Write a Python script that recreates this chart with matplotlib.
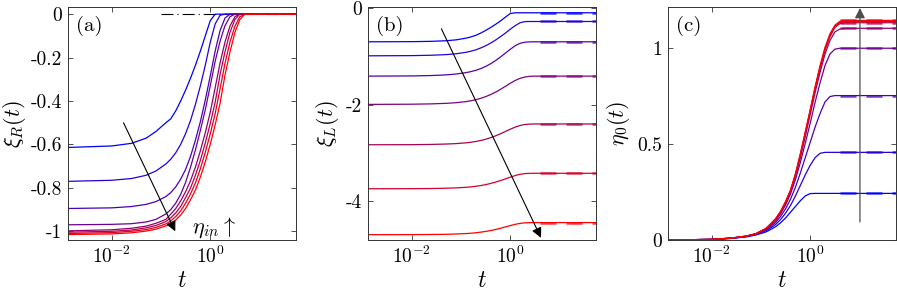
import matplotlib.pyplot as plt
from matplotlib.ticker import LogLocator, FixedLocator, NullFormatter, FixedFormatter

plt.rcParams['font.family'] = 'cmr10'
plt.rcParams['mathtext.fontset'] = 'cm'
plt.rcParams['axes.unicode_minus'] = False

# time samples
t = [1.26e-3, 0.01, 0.0251, 0.0501, 0.0794, 0.126, 0.158, 0.2, 0.251, 0.316,
     0.398, 0.501, 0.631, 0.794, 1.0, 1.259, 1.585, 1.995, 2.512, 3.162,
     3.981, 5.012, 6.31, 10.0, 55.0]

# panel (a): xi_R(t)
xiR = [
    [-0.614, -0.607, -0.595, -0.571, -0.54, -0.50, -0.482, -0.445, -0.40, -0.35, -0.295, -0.235, -0.17,
     -0.10, -0.03, 0, 0, 0, 0, 0, 0, 0, 0, 0, 0],
    [-0.77, -0.765, -0.757, -0.742, -0.722, -0.69, -0.668, -0.638, -0.60, -0.55, -0.49, -0.415, -0.33,
     -0.235, -0.13, -0.045, -0.005, 0, 0, 0, 0, 0, 0, 0, 0],
    [-0.895, -0.892, -0.886, -0.876, -0.863, -0.84, -0.822, -0.795, -0.76, -0.715, -0.655, -0.58, -0.495,
     -0.395, -0.285, -0.17, -0.075, -0.018, 0, 0, 0, 0, 0, 0, 0],
    [-0.97, -0.968, -0.965, -0.957, -0.945, -0.92, -0.90, -0.87, -0.83, -0.775, -0.705, -0.625, -0.535,
     -0.44, -0.33, -0.217, -0.124, -0.053, -0.012, 0, 0, 0, 0, 0, 0],
    [-0.998, -0.993, -0.986, -0.976, -0.963, -0.945, -0.921, -0.895, -0.86, -0.818, -0.767, -0.704, -0.629,
     -0.546, -0.452, -0.339, -0.224, -0.128, -0.055, -0.012, 0, 0, 0, 0, 0],
    [-1.004, -1.0, -0.994, -0.984, -0.973, -0.955, -0.938, -0.915, -0.886, -0.845, -0.801, -0.742, -0.673,
     -0.593, -0.504, -0.406, -0.277, -0.173, -0.084, -0.025, 0, 0, 0, 0, 0],
    [-1.01, -1.006, -1.0, -0.992, -0.982, -0.966, -0.952, -0.932, -0.906, -0.871, -0.828, -0.777, -0.712,
     -0.636, -0.552, -0.458, -0.343, -0.226, -0.129, -0.056, -0.012, 0, 0, 0, 0],
    [-1.015, -1.012, -1.007, -0.999, -0.99, -0.975, -0.965, -0.948, -0.925, -0.895, -0.855, -0.81, -0.75,
     -0.68, -0.60, -0.51, -0.41, -0.28, -0.175, -0.085, -0.025, 0, 0, 0, 0],
]

# panel (b): xi_L(t)
xiL = [
    [-0.70, -0.697, -0.69, -0.678, -0.66, -0.625, -0.60, -0.565, -0.52, -0.465, -0.405, -0.34, -0.27,
     -0.19, -0.115, -0.10, -0.10, -0.10, -0.10, -0.10, -0.10, -0.10, -0.10, -0.10, -0.10],
    [-0.99, -0.986, -0.978, -0.965, -0.948, -0.918, -0.895, -0.866, -0.828, -0.782, -0.728, -0.665, -0.595,
     -0.52, -0.44, -0.365, -0.305, -0.282, -0.28, -0.28, -0.28, -0.28, -0.28, -0.28, -0.28],
    [-1.41, -1.406, -1.398, -1.384, -1.367, -1.338, -1.317, -1.29, -1.255, -1.21, -1.155, -1.09, -1.015,
     -0.935, -0.855, -0.78, -0.73, -0.708, -0.701, -0.70, -0.70, -0.70, -0.70, -0.70, -0.70],
    [-1.995, -1.991, -1.984, -1.973, -1.96, -1.937, -1.92, -1.898, -1.87, -1.835, -1.792, -1.742, -1.685,
     -1.622, -1.558, -1.50, -1.455, -1.427, -1.414, -1.41, -1.41, -1.41, -1.41, -1.41, -1.41],
    [-2.83, -2.828, -2.823, -2.815, -2.806, -2.79, -2.778, -2.762, -2.742, -2.716, -2.684, -2.646, -2.603,
     -2.556, -2.508, -2.465, -2.43, -2.41, -2.402, -2.40, -2.40, -2.40, -2.40, -2.40, -2.40],
    [-3.74, -3.738, -3.735, -3.729, -3.722, -3.71, -3.701, -3.689, -3.674, -3.655, -3.631, -3.603, -3.571,
     -3.536, -3.50, -3.467, -3.44, -3.426, -3.421, -3.42, -3.42, -3.42, -3.42, -3.42, -3.42],
    [-4.69, -4.689, -4.686, -4.682, -4.676, -4.667, -4.66, -4.65, -4.638, -4.623, -4.605, -4.583, -4.558,
     -4.53, -4.502, -4.476, -4.456, -4.445, -4.441, -4.44, -4.44, -4.44, -4.44, -4.44, -4.44],
]
xiL_end = [-0.10, -0.28, -0.70, -1.41, -2.40, -3.42, -4.44]

# panel (c): eta_0(t)
eta0 = [
    [0, 0.003, 0.008, 0.016, 0.026, 0.042, 0.055, 0.07, 0.09, 0.115, 0.145, 0.175, 0.205,
     0.23, 0.242, 0.243, 0.243, 0.243, 0.243, 0.243, 0.243, 0.243, 0.243, 0.243, 0.243],
    [0, 0.003, 0.009, 0.018, 0.029, 0.048, 0.063, 0.082, 0.107, 0.14, 0.18, 0.23, 0.285,
     0.34, 0.39, 0.43, 0.452, 0.457, 0.457, 0.457, 0.457, 0.457, 0.457, 0.457, 0.457],
    [0, 0.003, 0.009, 0.019, 0.031, 0.053, 0.07, 0.093, 0.123, 0.163, 0.213, 0.275, 0.35,
     0.43, 0.51, 0.59, 0.66, 0.72, 0.748, 0.753, 0.753, 0.753, 0.753, 0.753, 0.753],
    [0, 0.003, 0.01, 0.02, 0.032, 0.056, 0.077, 0.102, 0.137, 0.183, 0.24, 0.315, 0.405,
     0.505, 0.61, 0.72, 0.82, 0.91, 0.97, 0.995, 1.0, 1.0, 1.0, 1.0, 1.0],
    [0, 0.003, 0.01, 0.02, 0.033, 0.058, 0.08, 0.107, 0.143, 0.192, 0.252, 0.333, 0.43,
     0.54, 0.655, 0.77, 0.875, 0.97, 1.04, 1.085, 1.10, 1.104, 1.104, 1.104, 1.104],
    [0, 0.003, 0.01, 0.02, 0.033, 0.059, 0.083, 0.11, 0.147, 0.197, 0.257, 0.34, 0.443,
     0.555, 0.67, 0.79, 0.895, 0.99, 1.06, 1.108, 1.128, 1.133, 1.133, 1.133, 1.133],
    [0, 0.003, 0.01, 0.02, 0.033, 0.06, 0.084, 0.111, 0.149, 0.199, 0.259, 0.343, 0.447,
     0.56, 0.676, 0.796, 0.903, 0.998, 1.068, 1.115, 1.135, 1.14, 1.14, 1.14, 1.14],
    [0, 0.003, 0.01, 0.02, 0.033, 0.06, 0.085, 0.112, 0.15, 0.20, 0.26, 0.345, 0.45,
     0.565, 0.68, 0.80, 0.91, 1.005, 1.075, 1.12, 1.14, 1.145, 1.145, 1.145, 1.145],
]
eta0_end = [0.243, 0.457, 0.753, 1.0, 1.104, 1.133, 1.14, 1.145]

xmin, xmax = 1.3e-3, 55.0
t_dash = 4.0


def blue_red(n):
    return [(i / (n - 1), 0, 1 - i / (n - 1)) for i in range(n)]


def style(ax, yticks, ylabels, ylim):
    ax.set_xscale('log')
    ax.set_xlim(xmin, xmax)
    ax.set_ylim(*ylim)
    ax.xaxis.set_major_locator(LogLocator(base=100))
    ax.xaxis.set_minor_locator(LogLocator(base=10, subs=[1, 2, 3, 4, 5, 6, 7, 8, 9]))
    ax.xaxis.set_minor_formatter(NullFormatter())
    ax.yaxis.set_major_locator(FixedLocator(yticks))
    ax.yaxis.set_major_formatter(FixedFormatter(ylabels))
    ax.tick_params(which='both', direction='in', top=True, right=True,
                   labelsize=14, pad=4, color='0.2')
    ax.tick_params(which='major', length=3.5, width=0.6)
    ax.tick_params(which='minor', length=2, width=0.5)
    for s in ax.spines.values():
        s.set_color('0.2')
        s.set_linewidth(0.7)
    ax.set_xlabel('$t$', fontsize=17, labelpad=2)


fig = plt.figure(figsize=(8.97, 2.94), dpi=100)
axa = fig.add_axes([0.0758, 0.1837, 0.2542, 0.7925])
axb = fig.add_axes([0.4103, 0.1837, 0.2542, 0.7925])
axc = fig.add_axes([0.7447, 0.1837, 0.2542, 0.7925])

arrow = dict(arrowstyle='-|>', color='k', lw=0.8, mutation_scale=15, shrinkA=0, shrinkB=0)

# (a)
axa.plot([0.1, xmax], [0, 0], color='k', lw=0.8, dashes=[10.8, 3.6, 1, 3.6], zorder=1)
for y, c in zip(xiR, blue_red(len(xiR))):
    axa.plot(t, y, color=c, lw=0.9, zorder=2)
style(axa, [-1, -0.8, -0.6, -0.4, -0.2, 0], ['-1', '-0.8', '-0.6', '-0.4', '-0.2', '0'], (-1.04, 0.033))
axa.set_ylabel(r'$\xi_R(t)$', fontsize=16, labelpad=2)
axa.text(0.035, 0.96, '(a)', transform=axa.transAxes, fontsize=15, va='top')
axa.annotate('', xy=(0.195, -1.0), xytext=(0.0174, -0.5), arrowprops=arrow)
axa.text(0.42, -0.985, r'$\eta_{in}\uparrow$', fontsize=16, va='center')

# (b)
for y, e, c in zip(xiL, xiL_end, blue_red(len(xiL))):
    axb.plot(t, y, color=c, lw=0.9, zorder=2)
    axb.plot([t_dash, xmax], [e, e], color=c, lw=1.8, alpha=0.75, dashes=[6.4, 4], zorder=3)
style(axb, [-4, -2, 0], ['-4', '-2', '0'], (-4.8, 0.02))
axb.set_ylabel(r'$\xi_L(t)$', fontsize=16, labelpad=4)
axb.text(0.035, 0.96, '(b)', transform=axb.transAxes, fontsize=15, va='top')
axb.annotate('', xy=(4.2, -4.755), xytext=(0.04, -0.43), arrowprops=arrow)

# (c)
for y, e, c in zip(eta0, eta0_end, blue_red(len(eta0))):
    axc.plot(t, y, color=c, lw=0.9, zorder=2)
    axc.plot([t_dash, xmax], [e, e], color=c, lw=1.8, alpha=0.75, dashes=[6.4, 4], zorder=3)
style(axc, [0, 0.5, 1], ['0', '0.5', '1'], (0, 1.215))
axc.set_ylabel(r'$\eta_0(t)$', fontsize=16, labelpad=4)
axc.text(0.035, 0.96, '(c)', transform=axc.transAxes, fontsize=15, va='top')
axc.annotate('', xy=(10.2, 1.21), xytext=(10.2, 0.094),
             arrowprops=dict(arrow, color='0.3', lw=0.9), zorder=4)

fig.savefig('out.png', dpi=100)
